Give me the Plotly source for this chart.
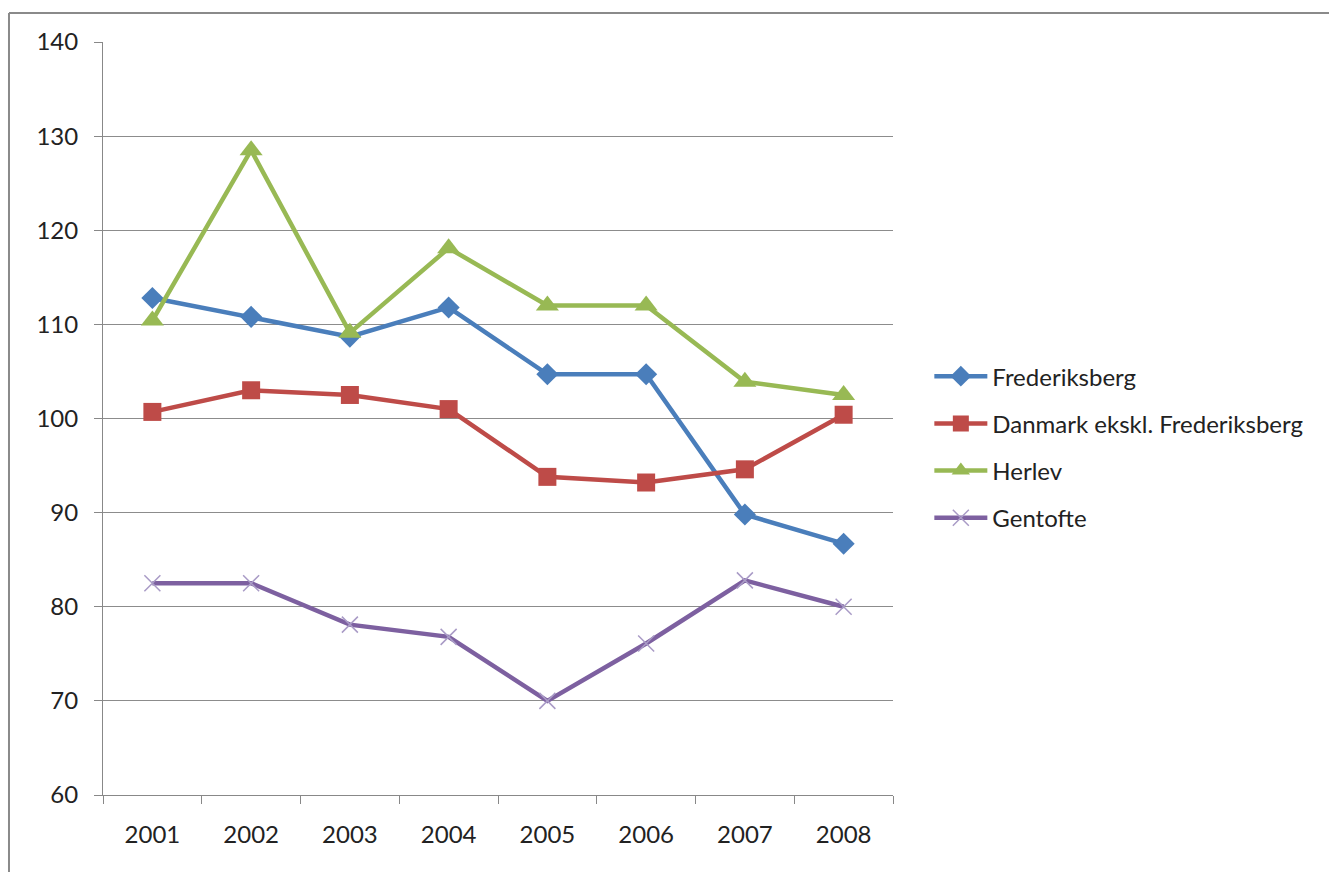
import plotly.graph_objects as go

years = ["2001", "2002", "2003", "2004", "2005", "2006", "2007", "2008"]
frederiksberg = [112.8, 110.8, 108.7, 111.8, 104.7, 104.7, 89.8, 86.7]
danmark_ex = [100.7, 103.0, 102.5, 101.0, 93.8, 93.2, 94.6, 100.4]
herlev = [110.4, 128.5, 109.1, 118.1, 112.0, 112.0, 103.9, 102.5]
gentofte = [82.5, 82.5, 78.1, 76.8, 70.0, 76.1, 82.8, 80.0]

y_ticks = [60, 70, 80, 90, 100, 110, 120, 130, 140]

series = [
    ("Frederiksberg", frederiksberg, "#4A7EBB", dict(symbol="diamond", size=17, color="#4A7EBB")),
    ("Danmark ekskl. Frederiksberg", danmark_ex, "#BE4B48", dict(symbol="square", size=18, color="#BE4B48")),
    ("Herlev", herlev, "#98B954", dict(symbol="triangle-up", size=20, color="#98B954")),
    ("Gentofte", gentofte, "#7D60A0",
     dict(symbol="x-thin", size=16, color="#A99BC6", line=dict(color="#A99BC6", width=1.5))),
]

fig = go.Figure()
for i, (name, vals, col, mk) in enumerate(series):
    fig.add_trace(go.Scatter(
        x=years, y=vals, name=name, mode="lines+markers",
        line=dict(color=col, width=4.5),
        marker=mk,
        legendgroup=f"g{i}",
    ))

fig.update_layout(
    width=1329, height=872,
    margin=dict(l=103, r=436, t=42, b=77),
    paper_bgcolor="white", plot_bgcolor="white",
    font=dict(family="Lato, 'Open Sans', sans-serif", size=24, color="#222222"),
    showlegend=True,
    legend=dict(
        x=1.046, y=0.462, xanchor="left", yanchor="middle",
        font=dict(size=24, color="#222222"),
        traceorder="grouped", tracegroupgap=13,
        itemwidth=53,
    ),
    xaxis=dict(
        type="category", showgrid=False,
        showline=True, linecolor="#888888", linewidth=1,
        ticks="outside", tickson="boundaries", ticklen=8, tickcolor="#888888",
        ticklabelstandoff=18,
        range=[-0.5, 7.5],
    ),
    yaxis=dict(
        range=[60, 140], tickvals=y_ticks,
        showgrid=True, gridcolor="#8C8C8C", gridwidth=1,
        showline=True, linecolor="#888888", linewidth=1,
        ticks="outside", ticklen=8, tickcolor="#888888",
        ticklabelstandoff=11, zeroline=False,
    ),
)

# outer chart frame (left and top edges)
fig.add_shape(type="line", xref="paper", yref="paper",
              x0=-0.119, x1=-0.119, y0=-0.2, y1=1.0385,
              line=dict(color="#8A8A8A", width=2))
fig.add_shape(type="line", xref="paper", yref="paper",
              x0=-0.119, x1=1.6, y0=1.0385, y1=1.0385,
              line=dict(color="#8A8A8A", width=2))

fig.write_html("out.html")
